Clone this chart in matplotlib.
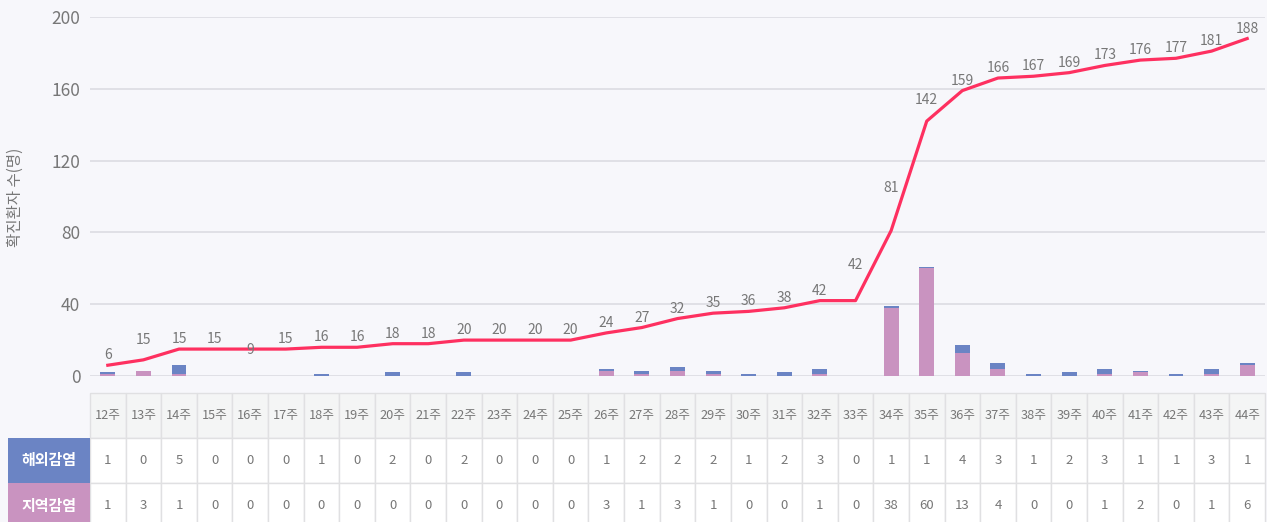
import matplotlib
matplotlib.use("Agg")
import matplotlib.pyplot as plt
import matplotlib.transforms as mtransforms
from matplotlib.patches import Rectangle
import numpy as np

plt.rcParams['font.family'] = ['Noto Sans CJK KR', 'DejaVu Sans']

weeks = [f"{w}주" for w in range(12, 45)]
overseas = [1, 0, 5, 0, 0, 0, 1, 0, 2, 0, 2, 0, 0, 0, 1, 2, 2, 2, 1, 2, 3, 0, 1, 1, 4, 3, 1, 2, 3, 1, 1, 3, 1]
local = [1, 3, 1, 0, 0, 0, 0, 0, 0, 0, 0, 0, 0, 0, 3, 1, 3, 1, 0, 0, 1, 0, 38, 60, 13, 4, 0, 0, 1, 2, 0, 1, 6]
cumulative = [6, 9, 15, 15, 15, 15, 16, 16, 18, 18, 20, 20, 20, 20, 24, 27, 32, 35, 36, 38, 42, 42,
              81, 142, 159, 166, 167, 169, 173, 176, 177, 181, 188]
line_labels = ["6", "15", "15", "15", "9", "15", "16", "16", "18", "18", "20", "20", "20", "20", "24", "27",
               "32", "35", "36", "38", "42", "42", "81", "142", "159", "166", "167", "169", "173", "176",
               "177", "181", "188"]
row_names = ["해외감염", "지역감염"]
yticks = [0, 40, 80, 120, 160, 200]

BG = "#f7f7fb"
BLUE = "#6b84c4"
PINK = "#c993c0"
RED = "#fe3060"
GRID = "#dcdce2"
TXT = "#777777"
LW = 'light'

W, H = 1267, 522
fig = plt.figure(figsize=(W / 100, H / 100), dpi=100, facecolor=BG)
ax = fig.add_axes([90 / W, (H - 376) / H, (1265 - 90) / W, (376 - 17) / H])
ax.set_facecolor(BG)

x = np.arange(len(weeks))
ax.bar(x, local, width=0.42, color=PINK, zorder=2)
ax.bar(x, overseas, width=0.42, bottom=local, color=BLUE, zorder=2)
ax.plot(x, cumulative, color=RED, lw=2.3, zorder=3, solid_joinstyle='round')

# label offsets in pixels (center above point)
special = {1: 20, 4: -1, 21: 36, 22: 43, 23: 21}
for i, (v, t) in enumerate(zip(cumulative, line_labels)):
    off = special.get(i, 10)
    ax.annotate(t, (i, v), xytext=(0, off * 0.72), textcoords='offset points',
                ha='center', va='center', fontsize=10, color=TXT, fontweight=LW,
                zorder=4, clip_on=False)

ax.set_xlim(-0.5, len(weeks) - 0.5)
ax.set_ylim(0, 200)
ax.set_yticks(yticks)
ax.set_yticklabels([str(t) for t in yticks], fontsize=12.5, color=TXT, fontweight=LW)
ax.tick_params(axis='y', length=0, pad=7)
ax.set_xticks([])
for s in ax.spines.values():
    s.set_visible(False)
ax.grid(axis='y', color=GRID, lw=1.2, zorder=0)
ax.set_axisbelow(True)
fig.text(15 / W, 1 - 197 / H, "확진환자 수(명)", rotation=90, ha='center', va='center',
         fontsize=11.2, color=TXT, fontweight=LW)

# table
tr = mtransforms.blended_transform_factory(ax.transData, fig.transFigure)
def fy(py):
    return 1 - py / H

rows_y = [(393, 438), (438, 483), (483, 528)]
BORDER = "#e0e0e2"
for i, wk in enumerate(weeks):
    for r, (y0, y1) in enumerate(rows_y):
        fc = "#f4f5f5" if r == 0 else "white"
        rect = Rectangle((i - 0.5, fy(y1)), 1, fy(y0) - fy(y1), transform=tr, facecolor=fc,
                         edgecolor=BORDER, lw=1.0, clip_on=False)
        fig.add_artist(rect)
    fig.text(i, fy(415.5), wk, transform=tr, ha='center', va='center', fontsize=9.2,
             color=TXT, fontweight=LW)
    fig.text(i, fy(460.5), str(overseas[i]), transform=tr, ha='center', va='center', fontsize=9.5,
             color=TXT, fontweight=LW)
    fig.text(i, fy(505.5), str(local[i]), transform=tr, ha='center', va='center', fontsize=9.5,
             color=TXT, fontweight=LW)

for r, (name, col) in enumerate(zip(row_names, [BLUE, PINK])):
    y0, y1 = rows_y[r + 1]
    fig.add_artist(Rectangle((8 / W, fy(y1)), 82 / W, fy(y0) - fy(y1), transform=fig.transFigure,
                             facecolor=col, edgecolor='none', clip_on=False))
    fig.text(49 / W, fy((y0 + y1) / 2), name, ha='center', va='center', fontsize=10.8,
             fontweight='bold', color='white')

fig.savefig("out.png", dpi=100, facecolor=BG)
